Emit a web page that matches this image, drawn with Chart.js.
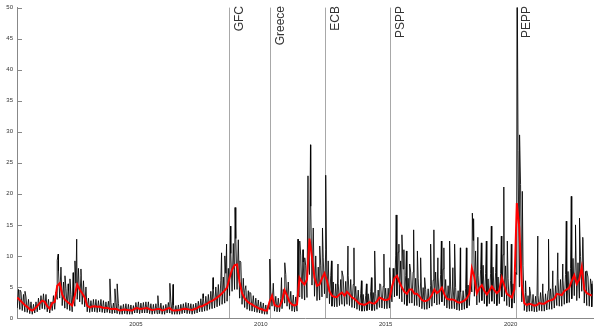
<!DOCTYPE html>
<html>
<head>
<meta charset="utf-8">
<script src="https://cdn.jsdelivr.net/npm/chart.js@4.4.1/dist/chart.umd.min.js"></script>
<style>
  html, body { margin: 0; padding: 0; background: #fff; }
  canvas { display: block; }
</style>
</head>
<body>
<canvas id="chart" width="602" height="329"></canvas>
<script>
// sampling grid: one reading every 0.1 year from 2000.25
const startYear = 2000.25;
const step = 0.1;

// smoothed measure (red)
const redLine = [
  3.3, 2.9, 2.5, 2.1, 1.8, 1.4, 1.2, 1.5,                 // 2000
  1.9, 2.4, 2.8, 2.6, 1.9, 1.5, 2.4, 2.6, 5.2, 5.6,       // 2001
  3.8, 3.0, 2.6, 2.3, 2.0, 3.6, 5.4, 4.6, 4.0, 3.3,       // 2002
  2.0, 1.7, 1.85, 1.9, 1.8, 1.85, 1.7, 1.6, 1.65, 1.5,    // 2003
  1.45, 1.5, 1.4, 1.2, 1.3, 1.35, 1.3, 1.25, 1.2, 1.5,    // 2004
  1.6, 1.45, 1.5, 1.55, 1.6, 1.4, 1.3, 1.35, 1.45, 1.45,  // 2005
  1.2, 1.3, 1.5, 1.6, 1.25, 1.2, 1.25, 1.3, 1.4, 1.5,     // 2006
  1.45, 1.35, 1.3, 1.45, 1.6, 1.85, 1.9, 2.1, 2.3, 2.6,   // 2007
  2.75, 3.0, 3.3, 3.6, 4.0, 4.4, 4.9, 6.5, 7.8, 8.5,      // 2008
  8.6, 5.8, 4.0, 3.2, 2.7, 2.4, 2.2, 1.9, 1.7, 1.5,       // 2009
  1.4, 1.2, 1.2, 2.6, 3.6, 2.1, 1.9, 1.85, 2.8, 4.5,      // 2010
  3.6, 2.6, 2.2, 2.0, 2.2, 6.5, 5.8, 5.4, 6.2, 12.8,      // 2011
  9.8, 6.5, 5.2, 5.4, 6.4, 7.2, 6.0, 4.3, 3.6, 3.4,       // 2012
  3.4, 3.8, 4.1, 3.6, 4.2, 3.8, 3.3, 3.1, 2.7, 2.3,       // 2013
  2.2, 2.1, 2.3, 2.55, 2.4, 2.3, 2.7, 3.3, 3.1, 2.9,      // 2014
  2.9, 3.1, 5.0, 6.4, 6.8, 5.8, 4.9, 4.2, 3.9, 4.6,       // 2015
  4.6, 3.9, 3.9, 3.5, 2.9, 2.7, 2.8, 3.1, 3.7, 4.6,       // 2016
  4.0, 4.3, 4.9, 3.8, 3.1, 3.0, 3.0, 2.9, 2.6, 2.45,      // 2017
  2.6, 2.8, 3.2, 3.9, 8.0, 6.6, 4.0, 4.8, 5.3, 4.4,       // 2018
  3.8, 4.4, 5.1, 4.5, 4.0, 4.4, 6.5, 5.2, 3.9, 3.6,       // 2019
  3.3, 4.6, 18.5, 14.5, 5.2, 2.4, 2.1, 2.3, 2.2, 2.0,     // 2020
  2.1, 2.4, 2.3, 2.3, 2.6, 2.8, 2.9, 3.1, 3.9, 3.8,       // 2021
  3.7, 4.3, 4.6, 4.9, 6.0, 6.9, 5.5, 6.2, 8.2, 4.6,       // 2022
  4.0, 3.8, 3.6                                           // 2023
];

// daily measure (black): lower and upper edge of the dense band
const bandLow = [
  1.6, 1.4, 1.2, 1.0, 0.9, 0.7, 0.6, 0.8,
  1.0, 1.3, 1.5, 1.4, 1.0, 0.8, 1.2, 1.4, 3.0, 3.2,
  2.0, 1.6, 1.4, 1.2, 1.0, 1.9, 3.0, 2.6, 2.2, 1.8,
  1.0, 0.9, 1.0, 1.0, 0.9, 1.0, 0.9, 0.8, 0.9, 0.8,
  0.7, 0.8, 0.7, 0.6, 0.6, 0.7, 0.6, 0.6, 0.6, 0.8,
  0.8, 0.7, 0.8, 0.8, 0.8, 0.7, 0.6, 0.7, 0.7, 0.7,
  0.6, 0.6, 0.8, 0.8, 0.6, 0.6, 0.6, 0.6, 0.7, 0.8,
  0.7, 0.7, 0.6, 0.7, 0.8, 1.0, 1.0, 1.1, 1.2, 1.4,
  1.5, 1.6, 1.8, 2.0, 2.2, 2.4, 2.7, 3.6, 4.3, 4.6,
  4.6, 3.2, 2.2, 1.7, 1.4, 1.2, 1.1, 1.0, 0.9, 0.8,
  0.7, 0.6, 0.6, 1.4, 1.9, 1.1, 1.0, 1.0, 1.5, 2.4,
  1.9, 1.4, 1.1, 1.0, 1.1, 3.4, 3.1, 2.9, 3.3, 7.0,
  5.3, 3.5, 2.8, 2.9, 3.4, 3.9, 3.2, 2.3, 1.9, 1.8,
  1.8, 2.0, 2.2, 1.9, 2.2, 2.0, 1.7, 1.6, 1.4, 1.2,
  1.1, 1.1, 1.2, 1.3, 1.2, 1.2, 1.4, 1.7, 1.6, 1.5,
  1.5, 1.6, 2.6, 3.4, 3.6, 3.1, 2.6, 2.2, 2.0, 2.4,
  2.4, 2.0, 2.0, 1.8, 1.5, 1.4, 1.4, 1.6, 1.9, 2.4,
  2.1, 2.2, 2.6, 2.0, 1.6, 1.5, 1.5, 1.5, 1.3, 1.2,
  1.3, 1.4, 1.6, 2.0, 4.2, 3.5, 2.1, 2.5, 2.8, 2.3,
  1.9, 2.3, 2.7, 2.3, 2.0, 2.3, 3.4, 2.7, 2.0, 1.8,
  1.6, 2.4, 7.0, 5.0, 2.6, 1.2, 1.0, 1.1, 1.1, 1.0,
  1.0, 1.2, 1.1, 1.1, 1.3, 1.4, 1.4, 1.6, 2.0, 1.9,
  1.9, 2.2, 2.4, 2.5, 3.1, 3.6, 2.8, 3.2, 4.3, 2.4,
  2.0, 1.9, 1.8
];
const bandHigh = [
  4.6, 4.2, 3.8, 3.4, 3.0, 2.6, 2.2, 2.6,
  3.2, 3.6, 3.9, 3.8, 3.0, 2.6, 3.6, 4.2, 7.6, 8.2,
  5.8, 4.8, 4.4, 3.8, 3.4, 5.6, 8.0, 6.8, 6.0, 5.0,
  3.2, 2.8, 3.0, 3.0, 2.8, 3.0, 2.8, 2.6, 2.7, 2.5,
  2.4, 2.5, 2.3, 2.0, 2.2, 2.3, 2.2, 2.1, 2.0, 2.5,
  2.6, 2.4, 2.5, 2.6, 2.6, 2.3, 2.2, 2.3, 2.4, 2.4,
  2.0, 2.2, 2.5, 2.7, 2.1, 2.0, 2.1, 2.2, 2.3, 2.5,
  2.4, 2.3, 2.2, 2.4, 2.7, 3.1, 3.2, 3.5, 3.8, 4.3,
  4.6, 5.0, 5.4, 6.0, 6.6, 7.2, 8.0, 10.4, 12.0, 12.8,
  12.6, 9.0, 6.4, 5.2, 4.4, 4.0, 3.6, 3.2, 2.9, 2.6,
  2.4, 2.1, 2.1, 4.2, 5.6, 3.5, 3.2, 3.1, 4.6, 7.0,
  5.8, 4.3, 3.7, 3.4, 3.7, 10.0, 9.0, 8.4, 9.6, 18.0,
  14.5, 10.0, 8.2, 8.4, 9.8, 11.0, 9.2, 6.8, 5.8, 5.5,
  5.6, 6.2, 6.6, 5.9, 6.8, 6.2, 5.4, 5.1, 4.5, 3.9,
  3.8, 3.6, 3.9, 4.3, 4.1, 3.9, 4.5, 5.4, 5.1, 4.8,
  4.8, 5.1, 8.0, 10.0, 10.6, 9.2, 7.9, 6.8, 6.4, 7.4,
  7.4, 6.4, 6.4, 5.8, 4.9, 4.6, 4.7, 5.2, 6.1, 7.4,
  6.6, 7.0, 7.9, 6.2, 5.2, 5.0, 5.0, 4.9, 4.4, 4.2,
  4.4, 4.7, 5.3, 6.4, 12.5, 10.8, 6.8, 7.8, 8.5, 7.2,
  6.3, 7.2, 8.2, 7.3, 6.6, 7.2, 10.2, 8.4, 6.4, 6.0,
  5.5, 7.4, 27.0, 21.5, 8.4, 4.1, 3.6, 3.9, 3.8, 3.5,
  3.6, 4.1, 3.9, 3.9, 4.4, 4.7, 4.9, 5.2, 6.4, 6.2,
  6.1, 7.0, 7.5, 8.0, 9.6, 10.8, 8.9, 9.9, 12.6, 7.5,
  6.6, 6.3, 6.0
];

// isolated daily spikes above the band
const spikeYears = [
  2000.36, 2000.56, 2001.85, 2001.89, 2002.16, 2002.29, 2002.36, 2002.49, 2002.56, 2002.63,
  2002.80, 2003.96, 2004.16, 2004.25, 2005.88, 2006.36, 2006.49, 2007.69, 2008.09, 2008.43,
  2008.56, 2008.63, 2008.79, 2008.97, 2009.16, 2009.36, 2009.56, 2010.36, 2010.83, 2010.96,
  2011.49, 2011.56, 2011.69, 2011.76, 2011.89, 2011.99, 2012.36, 2012.47, 2012.60, 2012.83,
  2013.09, 2013.25, 2013.49, 2013.73, 2014.03, 2014.23, 2014.43, 2014.56, 2014.76, 2014.93,
  2015.16, 2015.33, 2015.42, 2015.53, 2015.65, 2015.73, 2015.83, 2015.96, 2016.12, 2016.27,
  2016.40, 2016.56, 2016.80, 2016.93, 2017.09, 2017.23, 2017.33, 2017.56, 2017.69, 2017.76,
  2017.99, 2018.23, 2018.47, 2018.52, 2018.69, 2018.83, 2019.03, 2019.23, 2019.43, 2019.63,
  2019.73, 2019.87, 2020.03, 2020.27, 2020.36, 2020.47, 2020.60, 2020.76, 2021.09, 2021.29,
  2021.52, 2021.69, 2021.89, 2022.09, 2022.23, 2022.43, 2022.60, 2022.76, 2022.89, 2023.05,
  2023.23
];
const spikeValues = [
  4.5, 4.3, 9.3, 10.3, 6.8, 5.5, 6.3, 7.3, 9.2, 12.7,
  7.9, 6.3, 4.7, 5.5, 3.6, 5.6, 5.4, 3.9, 6.5, 10.5,
  10.0, 11.9, 14.8, 17.8, 9.2, 4.4, 4.15, 9.5, 6.5, 8.9,
  12.7, 12.4, 11.0, 9.7, 22.9, 27.9, 11.6, 14.5, 23.0, 9.2,
  8.7, 7.6, 11.6, 11.3, 6.0, 5.5, 6.5, 10.8, 5.5, 10.3,
  8.1, 6.0, 16.6, 11.9, 13.4, 11.0, 10.8, 8.7, 14.2, 10.8,
  9.7, 6.5, 11.9, 14.2, 9.7, 12.4, 11.3, 12.4, 8.1, 11.9,
  11.3, 11.3, 16.9, 16.0, 13.0, 12.1, 12.4, 14.8, 11.9, 13.2,
  21.1, 12.4, 11.9, 52.0, 29.5, 20.4, 6.0, 5.0, 13.2, 5.5,
  12.7, 7.6, 10.5, 8.7, 15.6, 19.6, 15.0, 16.1, 13.0, 7.6,
  5.5
];

const eventYears = [2008.71, 2010.35, 2012.57, 2015.19, 2020.21];
const eventLabels = ['GFC', 'Greece', 'ECB', 'PSPP', 'PEPP'];
const xTicks = [2005, 2010, 2015, 2020];

const FONT = '"Liberation Sans", Arial, Helvetica, sans-serif';

// build the point lists
const redPoints = redLine.map((v, i) => ({ x: startYear + i * step, y: v }));
const blackPoints = [];
bandLow.forEach((v, i) => {
  const t = startYear + i * step;
  blackPoints.push({ x: t, y: v });
  blackPoints.push({ x: t + step / 2, y: bandHigh[i] });
});
spikeYears.forEach((t, i) => blackPoints.push({ x: t, y: spikeValues[i] }));
blackPoints.sort((a, b) => a.x - b.x);

// vertical event lines with rotated labels
const eventLines = {
  id: 'eventLines',
  beforeDatasetsDraw(chart) {
    const { ctx, chartArea, scales } = chart;
    ctx.save();
    eventYears.forEach((yr, i) => {
      const px = Math.round(scales.x.getPixelForValue(yr)) + 0.5;
      ctx.strokeStyle = '#a8a8a8';
      ctx.lineWidth = 1;
      ctx.beginPath();
      ctx.moveTo(px, chartArea.top);
      ctx.lineTo(px, chartArea.bottom);
      ctx.stroke();

      ctx.save();
      ctx.translate(px + 4, 6);
      ctx.rotate(-Math.PI / 2);
      ctx.fillStyle = '#333';
      ctx.font = '12px ' + FONT;
      ctx.textAlign = 'right';
      ctx.textBaseline = 'top';
      ctx.fillText(eventLabels[i], 0, 0);
      ctx.restore();
    });
    ctx.restore();
  }
};

// small tick marks pointing into the plot on the y axis
const innerTicks = {
  id: 'innerTicks',
  afterDraw(chart) {
    const { ctx, chartArea, scales } = chart;
    ctx.save();
    ctx.strokeStyle = '#888';
    ctx.lineWidth = 1;
    scales.y.ticks.forEach(t => {
      const py = Math.round(scales.y.getPixelForValue(t.value)) + 0.5;
      ctx.beginPath();
      ctx.moveTo(chartArea.left, py);
      ctx.lineTo(chartArea.left + 5, py);
      ctx.stroke();
    });
    ctx.restore();
  }
};

new Chart(document.getElementById('chart'), {
  type: 'line',
  data: {
    datasets: [
      {
        data: redPoints,
        borderColor: '#ff0000',
        borderWidth: 2,
        pointRadius: 0,
        tension: 0,
        order: 0
      },
      {
        data: blackPoints,
        borderColor: '#000',
        borderWidth: 0.85,
        pointRadius: 0,
        tension: 0,
        order: 1
      }
    ]
  },
  options: {
    responsive: false,
    animation: false,
    devicePixelRatio: 1,
    layout: { padding: { top: 3, right: 9, left: 0, bottom: 0 } },
    plugins: { legend: { display: false }, tooltip: { enabled: false } },
    scales: {
      x: {
        type: 'linear',
        min: 2000.24,
        max: 2023.3,
        afterBuildTicks: s => { s.ticks = xTicks.map(v => ({ value: v })); },
        afterFit: s => { s.height = 11; },
        ticks: {
          callback: v => String(v),
          font: { size: 6, family: FONT },
          color: '#333',
          padding: 3,
          maxRotation: 0,
          autoSkip: false
        },
        grid: { display: false, drawTicks: false },
        border: { color: '#888', width: 1 }
      },
      y: {
        min: 0,
        max: 50,
        afterFit: s => { s.width = 17; },
        ticks: {
          stepSize: 5,
          font: { size: 6, family: FONT },
          color: '#333',
          padding: 4
        },
        grid: { display: false, drawTicks: false },
        border: { color: '#888', width: 1 }
      }
    }
  },
  plugins: [eventLines, innerTicks]
});
</script>
</body>
</html>
